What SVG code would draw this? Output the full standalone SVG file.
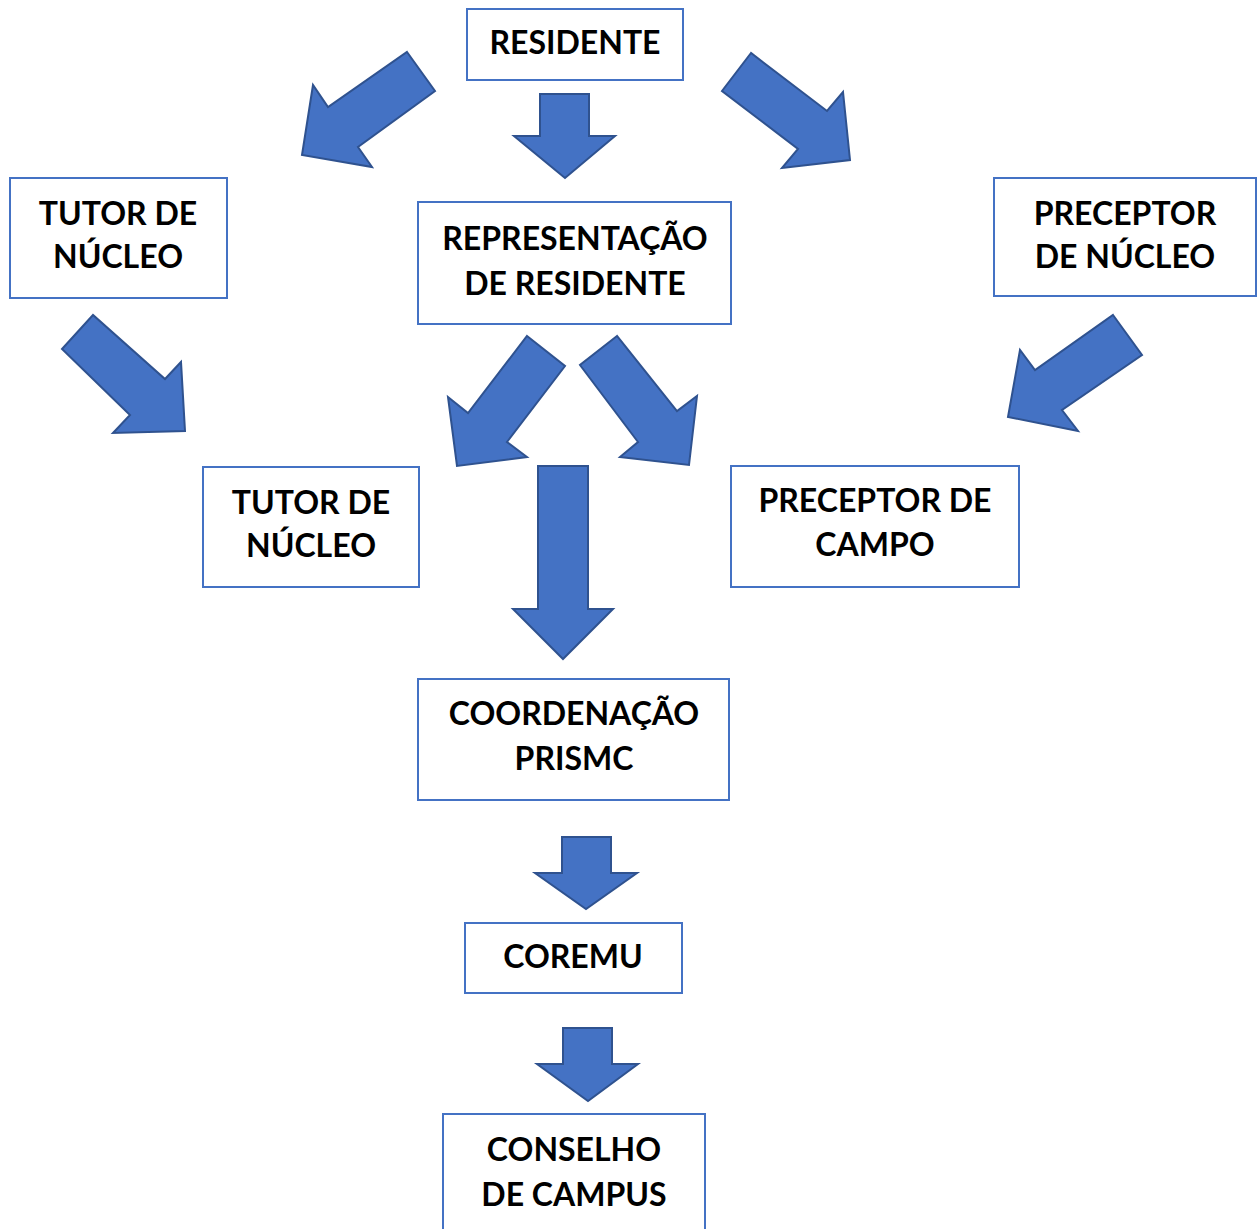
<svg xmlns="http://www.w3.org/2000/svg" width="1259" height="1229" viewBox="0 0 1259 1229">
<style>
.box{fill:#ffffff;stroke:#4472C4;stroke-width:2}
.arr{fill:#4472C4;stroke:#2F528F;stroke-width:2;stroke-linejoin:miter}
text{font-family:Lato,"Open Sans","Liberation Sans",sans-serif;font-weight:bold;font-size:32px;fill:#000;text-anchor:middle}
</style>
<rect width="1259" height="1229" fill="#ffffff"/>
<g id="connectors">
<polygon class="arr" points="407,52 435,91 358,147 372,167 302,155 313,85 328,107"/>
<polygon class="arr" points="540,94 589,94 589,136 615,136 565,178 514,136 540,136"/>
<polygon class="arr" points="751,53 722,91 798,149 782,168 850,160 843,92 827,111"/>
<polygon class="arr" points="93,315 62,349 130,415 113,433 185,431 181,362 165,379"/>
<polygon class="arr" points="527,336 565,366 507,442 527,457 457,466 448,397 468,413"/>
<polygon class="arr" points="617,336 580,365 638,442 620,457 689,465 697,396 677,411"/>
<polygon class="arr" points="1113,315 1142,355 1062,410 1078,431 1008,417 1020,350 1035,370"/>
<polygon class="arr" points="538,466 588,466 588,609 613,609 563,659 513,609 538,609"/>
<polygon class="arr" points="562,837 611,837 611,873 637,873 586,909 535,873 562,873"/>
<polygon class="arr" points="563,1028 612,1028 612,1064 638,1064 588,1101 537,1064 563,1064"/>
</g>
<g id="residente"><rect class="box" x="467" y="9" width="216" height="71"/><text x="575" y="54">RESIDENTE</text></g>
<g id="tutor-nucleo-1"><rect class="box" x="10" y="178" width="217" height="120"/><text x="118" y="225">TUTOR DE</text><text x="118" y="268">NÚCLEO</text></g>
<g id="representacao"><rect class="box" x="418" y="202" width="313" height="122"/><text x="575" y="250">REPRESENTAÇÃO</text><text x="575" y="295">DE RESIDENTE</text></g>
<g id="preceptor-nucleo"><rect class="box" x="994" y="178" width="262" height="118"/><text x="1125" y="225">PRECEPTOR</text><text x="1125" y="268">DE NÚCLEO</text></g>
<g id="tutor-nucleo-2"><rect class="box" x="203" y="467" width="216" height="120"/><text x="311" y="514">TUTOR DE</text><text x="311" y="557">NÚCLEO</text></g>
<g id="preceptor-campo"><rect class="box" x="731" y="466" width="288" height="121"/><text x="875" y="512">PRECEPTOR DE</text><text x="875" y="556">CAMPO</text></g>
<g id="coordenacao"><rect class="box" x="418" y="679" width="311" height="121"/><text x="574" y="725">COORDENAÇÃO</text><text x="574" y="770">PRISMC</text></g>
<g id="coremu"><rect class="box" x="465" y="923" width="217" height="70"/><text x="573" y="968">COREMU</text></g>
<g id="conselho"><rect class="box" x="443" y="1114" width="262" height="125"/><text x="574" y="1161">CONSELHO</text><text x="574" y="1206">DE CAMPUS</text></g>
</svg>
